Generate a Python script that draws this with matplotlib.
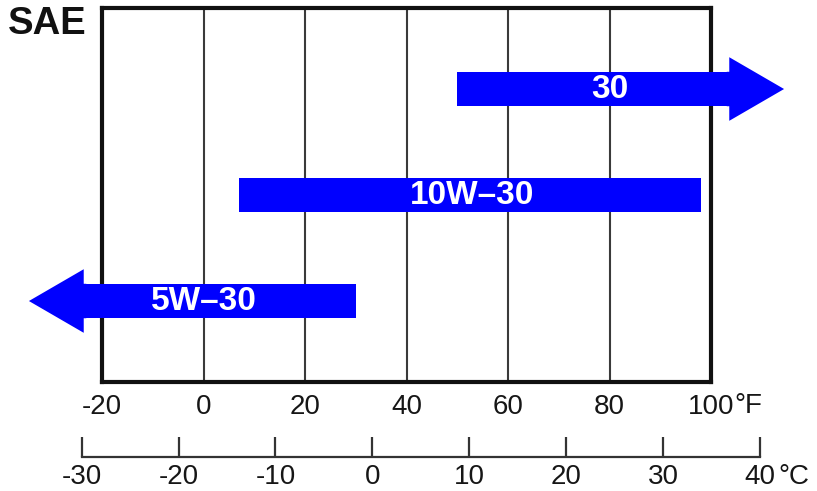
import matplotlib
matplotlib.use("Agg")
import matplotlib.pyplot as plt

plt.rcParams['font.family'] = ['Liberation Sans', 'DejaVu Sans']

# ---- data ----
grades = ['5W-30', '10W-30', '30']
temp_low_F = [None, 7, 50]      # None = open ended (arrow to the left)
temp_high_F = [30, 98, None]    # None = open ended (arrow to the right)
f_ticks = [-20, 0, 20, 40, 60, 80, 100]
f_labels = ['-20', '0', '20', '40', '60', '80', '100']
c_ticks = [-30, -20, -10, 0, 10, 20, 30, 40]
c_labels = ['-30', '-20', '-10', '0', '10', '20', '30', '40']

# ---- style ----
BLUE = '#0000FF'
TXT = '#161616'
W, H = 817, 491
XMIN, XMAX = -20, 100
EXT = 3.6        # body extension beyond axis for open arrows (F units)
HEAD = 10.8      # head length (F units)
BODY_H = 0.325
HEAD_H = 0.60
label_x = [0, 53, 80]

fig = plt.figure(figsize=(W / 100, H / 100), dpi=100)
ax = fig.add_axes([102 / W, 1 - 382 / H, (711 - 102) / W, (382 - 7.5) / H])
ax.set_xlim(XMIN, XMAX)
ax.set_ylim(-0.764, 2.769)

for t in f_ticks[1:-1]:
    ax.axvline(t, color='#3a3a3a', lw=1.5, zorder=1)

for sp in ax.spines.values():
    sp.set_linewidth(3.0)
    sp.set_color('#111111')
    sp.set_zorder(2.5)

ax.set_yticks([])
ax.set_xticks(f_ticks)
ax.set_xticklabels(f_labels, fontsize=20, color=TXT)
ax.tick_params(axis='x', length=0, pad=9)

for i, (g, lo, hi) in enumerate(zip(grades, temp_low_F, temp_high_F)):
    left = lo if lo is not None else XMIN - EXT
    right = hi if hi is not None else XMAX + EXT
    ax.barh(i, right - left, left=left, height=BODY_H, color=BLUE,
            zorder=3, clip_on=False, lw=0)
    if hi is None:
        ax.fill([right - 0.5, right, right, right + HEAD, right, right, right - 0.5],
                [i - BODY_H / 2, i - BODY_H / 2, i - HEAD_H / 2, i,
                 i + HEAD_H / 2, i + BODY_H / 2, i + BODY_H / 2],
                color=BLUE, zorder=3, clip_on=False, lw=0)
    if lo is None:
        ax.fill([left + 0.5, left, left, left - HEAD, left, left, left + 0.5],
                [i - BODY_H / 2, i - BODY_H / 2, i - HEAD_H / 2, i,
                 i + HEAD_H / 2, i + BODY_H / 2, i + BODY_H / 2],
                color=BLUE, zorder=3, clip_on=False, lw=0)
    ax.text(label_x[i], i, g.replace('-', '\u2013'), color='white', fontsize=24,
            fontweight='bold', ha='center', va='center', zorder=4)

ax.annotate('\u00b0F', xy=(XMAX, 0), xycoords=('data', 'axes fraction'),
            xytext=(16.5, -17.2), textcoords='offset points', ha='left',
            va='center', fontsize=20, color=TXT)

fig.text(8 / W, 1 - 24 / H, 'SAE', fontsize=27.5, fontweight='bold',
         ha='left', va='center', color='#111111')

# Celsius scale
axc = fig.add_axes([81.7 / W, 1 - 457 / H, (760 - 81.7) / W, 0.001])
axc.set_xlim(-30, 40)
axc.set_yticks([])
for s in ['top', 'left', 'right']:
    axc.spines[s].set_visible(False)
axc.spines['bottom'].set_linewidth(1.6)
axc.spines['bottom'].set_color('#333333')
axc.patch.set_alpha(0)
axc.set_xticks(c_ticks)
axc.set_xticklabels(c_labels, fontsize=20, color=TXT)
axc.tick_params(axis='x', direction='in', length=14.5, width=1.6,
                color='#333333', pad=5)
axc.annotate('\u00b0C', xy=(40, 0), xycoords='data',
             xytext=(13.5, -14.2), textcoords='offset points', ha='left',
             va='center', fontsize=20, color=TXT)

fig.savefig('out.png', dpi=100)
